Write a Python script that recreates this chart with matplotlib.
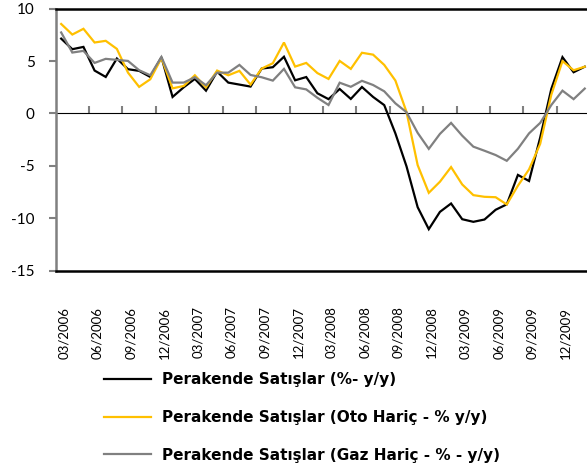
import matplotlib
matplotlib.use("Agg")
import matplotlib.pyplot as plt
import matplotlib.transforms as mtransforms
import numpy as np

plt.rcParams['font.family'] = ['Lato', 'DejaVu Sans']

# Monthly data 03/2006 .. 02/2010
months = [f"{m:02d}/{y}" for y in range(2006, 2011) for m in range(1, 13)]
months = months[2:2 + 48]

total = [7.15, 6.14, 6.36, 4.1, 3.49, 5.25, 4.23, 4.07, 3.49, 5.38,
         1.58, 2.5, 3.3, 2.18, 4.0, 2.95, 2.76, 2.57, 4.29, 4.42,
         5.42, 3.17, 3.48, 1.93, 1.37, 2.34, 1.39, 2.53, 1.58, 0.8,
         -1.9, -5.05, -8.95, -11.05, -9.4, -8.6, -10.1, -10.35, -10.13, -9.2,
         -8.68, -5.87, -6.45, -2.3, 2.35, 5.38, 3.94, 4.47]
ex_auto = [8.55, 7.54, 8.09, 6.78, 6.94, 6.17, 3.9, 2.54, 3.27, 5.3,
           2.4, 2.63, 3.65, 2.5, 4.1, 3.65, 4.07, 2.76, 4.29, 4.8,
           6.78, 4.48, 4.83, 3.86, 3.3, 5.02, 4.26, 5.8, 5.62, 4.64,
           3.15, 0.15, -4.93, -7.58, -6.52, -5.12, -6.78, -7.8, -7.96, -8.0,
           -8.69, -6.9, -5.34, -2.9, 1.8, 5.0, 4.13, 4.47]
ex_gas = [7.74, 5.82, 5.98, 4.83, 5.22, 5.12, 5.02, 4.13, 3.65, 5.4,
          2.95, 2.95, 3.46, 2.7, 3.9, 3.9, 4.64, 3.68, 3.46, 3.14,
          4.26, 2.5, 2.3, 1.5, 0.81, 2.94, 2.55, 3.12, 2.72, 2.12,
          0.97, 0.12, -1.85, -3.38, -1.95, -0.9, -2.12, -3.17, -3.56, -3.97,
          -4.52, -3.37, -1.9, -0.9, 0.81, 2.18, 1.37, 2.38]

labels = ["Perakende Satışlar (%- y/y)",
          "Perakende Satışlar (Oto Hariç - % y/y)",
          "Perakende Satışlar (Gaz Hariç - % - y/y)"]
colors = ["#000000", "#FFC000", "#808080"]
yticks = [10, 5, 0, -5, -10, -15]

W, H = 587, 476
fig = plt.figure(figsize=(W / 100, H / 100), dpi=100)
left = 55.6 / W
width = 48 * 11.14 / W
top_px, bot_px = 8.8, 270.5
ax = fig.add_axes([left, 1 - bot_px / H, width, (bot_px - top_px) / H])

x = np.arange(len(months))
for s, c, l in zip([total, ex_auto, ex_gas], colors, labels):
    ax.plot(x, s, color=c, lw=1.6, label=l, solid_joinstyle='miter')

ax.set_xlim(-0.5, len(months) - 0.5)
ax.set_ylim(-15, 10)

# spines
ax.spines['right'].set_visible(False)
ax.spines['top'].set_color('black')
ax.spines['top'].set_linewidth(1.8)
ax.spines['bottom'].set_color('black')
ax.spines['bottom'].set_linewidth(1.8)
ax.spines['left'].set_color('#808080')
ax.spines['left'].set_linewidth(1.8)

ax.set_yticks(yticks)
ax.set_yticklabels([str(v) for v in yticks], fontsize=11)
ax.tick_params(axis='y', direction='out', length=5, width=1.5, color='#808080', pad=10)

lab_pos = x[::3]
ax.set_xticks(lab_pos)
ax.set_xticklabels(months[::3], rotation=90, fontsize=9.5)
ax.tick_params(axis='x', length=0, pad=26)
shift = mtransforms.ScaledTranslation(3 / 100, 0, fig.dpi_scale_trans)
for t in ax.get_xticklabels():
    t.set_transform(t.get_transform() + shift)

# zero axis with tick marks between categories
sec = ax.secondary_xaxis(15 / 25)
sec.spines['bottom'].set_color('#808080')
sec.spines['bottom'].set_linewidth(1.8)
sec.set_xticks(np.arange(2.5, 45, 3))
sec.set_xticklabels([])
sec.tick_params(axis='x', direction='out', length=5, width=1.5, color='#808080')

fig.legend(loc='upper left', bbox_to_anchor=(104 / W, 1 - 372 / H),
           frameon=False,
           prop={'family': 'DejaVu Sans', 'weight': 'bold', 'size': 11},
           handlelength=3.05, handletextpad=0.72, labelspacing=1.5,
           borderpad=0, borderaxespad=0)

fig.savefig("out.png", dpi=100)
